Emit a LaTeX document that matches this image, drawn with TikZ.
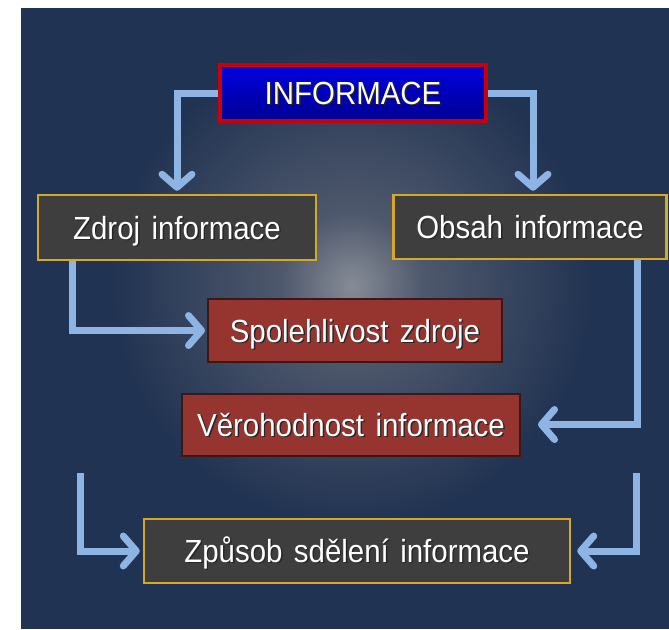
\documentclass[tikz,border=0pt]{standalone}
\usepackage{fontspec}
\setmainfont{Liberation Sans}[FakeStretch=0.92,WordSpace=1.4]
\usetikzlibrary{arrows.meta}
\definecolor{bgnavy}{RGB}{33,51,82}
\definecolor{glowc}{RGB}{135,140,150}
\definecolor{glowm}{RGB}{78,88,108}
\definecolor{arrowblue}{RGB}{141,180,226}
\definecolor{boxgrey}{RGB}{62,62,62}
\definecolor{boxgold}{RGB}{214,168,40}
\definecolor{boxred}{RGB}{150,52,48}
\definecolor{boxredline}{RGB}{58,24,24}
\definecolor{infored}{RGB}{200,0,10}
\definecolor{infotop}{RGB}{0,0,225}
\definecolor{infobot}{RGB}{0,0,145}
\pgfdeclareradialshading{glowshade}{\pgfpoint{0bp}{0bp}}{color(0bp)=(glowc); color(6bp)=(glowm); color(20bp)=(bgnavy); color(50bp)=(bgnavy)}
\newcommand\shtext[1]{\rlap{\kern1.4pt\raisebox{-1.4pt}{\color{black!85}#1}}#1}
\tikzset{
  basebox/.style={rectangle, text=white, inner sep=0pt, text height=23pt, text depth=0pt, font=\fontsize{32}{38}\selectfont},
  infobox/.style={basebox, draw=infored, line width=4pt, top color=infotop, bottom color=infobot},
  greybox/.style={basebox, draw=boxgold, line width=2.5pt, fill=boxgrey},
  redbox/.style={basebox, draw=boxredline, line width=2pt, fill=boxred},
  flow/.style={draw=arrowblue, line width=7pt, line join=miter, -{Straight Barb[length=13pt,width=30pt,round]}},
}
\begin{document}
\begin{tikzpicture}[x=1pt,y=-1pt]
\useasboundingbox (0,0) rectangle (669,629);
\fill[white] (0,0) rectangle (669,629);
\fill[bgnavy] (21,8) rectangle (669,629);
\begin{scope}
\clip (21,8) rectangle (669,629);
\shade[shading=glowshade] (352,285) circle (300);
\end{scope}

\node[infobox, minimum width=266pt, minimum height=56pt] (info) at (353,93) {\shtext{INFORMACE}};
\node[greybox, minimum width=278pt, minimum height=65pt] (zdroj) at (177,227.5) {\shtext{Zdroj informace}};
\node[greybox, minimum width=273pt, minimum height=64pt] (obsah) at (530,227) {\shtext{Obsah informace}};
\node[redbox, minimum width=294pt, minimum height=63pt] (spol) at (355,330.5) {\shtext{Spolehlivost zdroje}};
\node[redbox, minimum width=338pt, minimum height=62pt] (ver) at (351,424.5) {\shtext{Věrohodnost informace}};
\node[greybox, minimum width=426pt, minimum height=64pt] (zp) at (357,551) {\shtext{Způsob sdělení informace}};

\coordinate (s5) at (80,473);
\coordinate (s6) at (636,473);

\draw[flow, shorten >=3pt] (info.west) -| (zdroj.north);
\draw[flow, shorten >=3pt] (info.east) -| ([xshift=3pt]obsah.north);
\draw[flow, shorten >=2pt] ([xshift=-105pt]zdroj.south) |- (spol.west);
\draw[flow, shorten >=17pt] ([xshift=107pt]obsah.south) |- (ver.east);
\draw[flow, shorten >=3pt] (s5) |- (zp.west);
\draw[flow, shorten >=6pt] (s6) |- (zp.east);
\end{tikzpicture}
\end{document}
